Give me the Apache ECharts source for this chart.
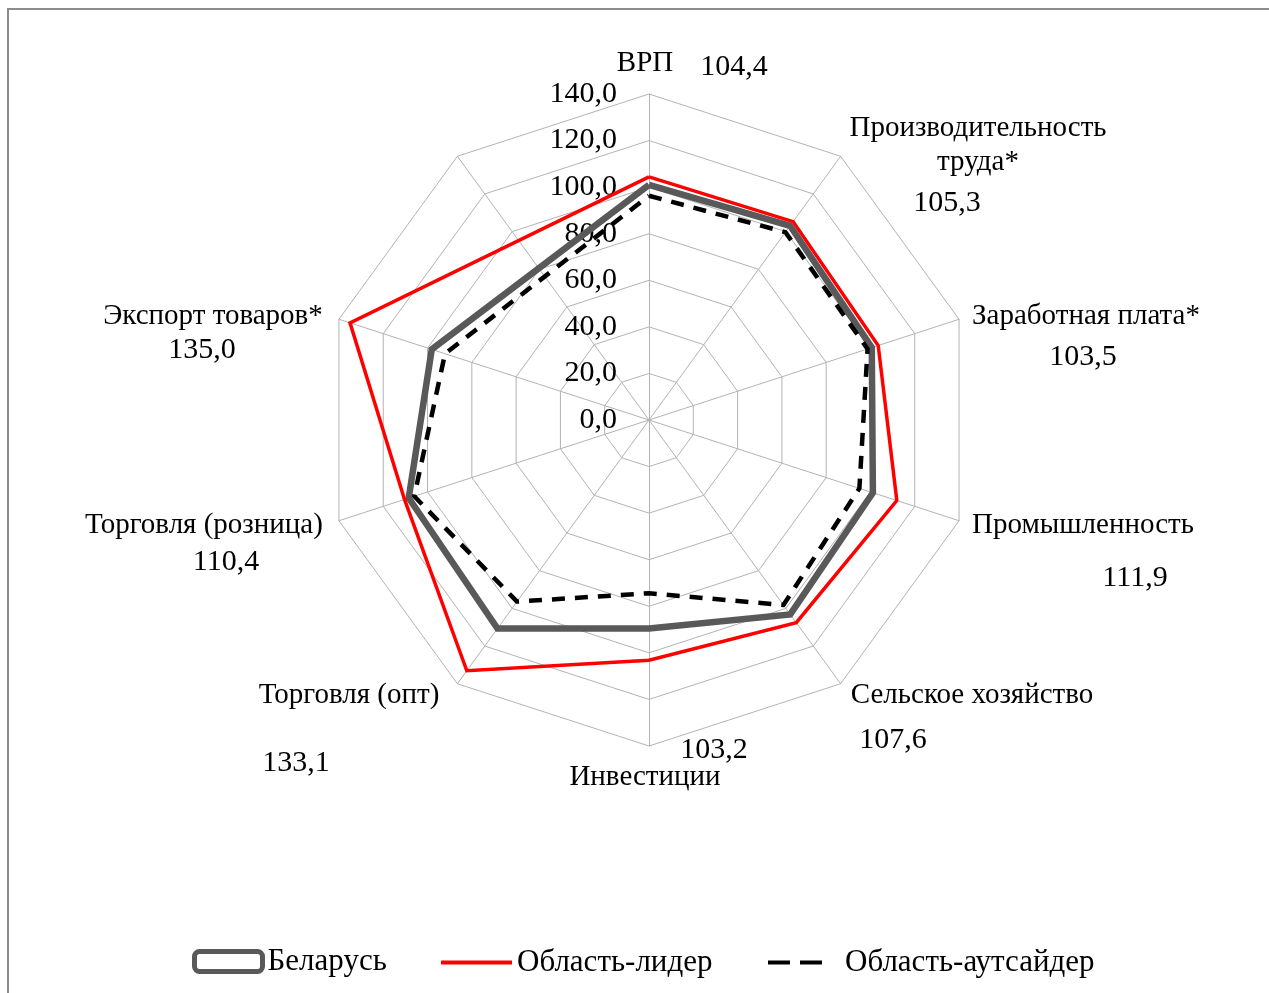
<!DOCTYPE html>
<html>
<head>
<meta charset="utf-8">
<script src="https://cdn.jsdelivr.net/npm/echarts@6/dist/echarts.min.js"></script>
<style>
html,body{margin:0;padding:0;background:#fff;}
#chart{width:1269px;height:993px;}
</style>
</head>
<body>
<div id="chart"></div>
<script>
// Categories clockwise from the top; the 10th spoke in the original has no label and no data
var categories = ['ВРП', 'Производительность\nтруда*', 'Заработная плата*', 'Промышленность', 'Сельское хозяйство', 'Инвестиции', 'Торговля (опт)', 'Торговля (розница)', 'Экспорт товаров*', ''];
var belarus  = [101.0, 103.1, 100.6, 101.1, 103.2, 89.5, 110.7, 108.5, 98.1, null];
var leader   = [104.4, 105.3, 103.5, 111.9, 107.6, 103.2, 133.1, 110.4, 135.0, null];
var outsider = [96.3, 99.7, 98.7, 95.0, 98.2, 74.4, 96.4, 106.0, 92.1, null];
var tickLabels = ['0,0', '20,0', '40,0', '60,0', '80,0', '100,0', '120,0', '140,0'];
var seriesNames = ['Беларусь', 'Область-лидер', 'Область-аутсайдер'];

var FONT = "'Liberation Serif', 'Times New Roman', serif";
var CX = 649, CY = 420, R = 326, MAX = 140;
var N = categories.length, STEP = 360 / N;

function toPolar(vals) {
  var pts = [];
  vals.forEach(function (v, i) { if (v != null) pts.push([v, i * STEP]); });
  pts.push([vals[0], 360]);
  return pts;
}
function fmt(v) { return v.toFixed(1).replace('.', ','); }

// label layout (category name position, value text position)
var labelPos = [
  {n: [645, 63],  v: [734, 67]},
  {n: [978, 145], v: [947, 203]},
  {n: [1086, 316], v: [1083, 357]},
  {n: [1083, 525], v: [1135, 578]},
  {n: [972, 695], v: [893, 740]},
  {n: [645, 777], v: [714, 750]},
  {n: [349, 695], v: [296, 763]},
  {n: [204, 525], v: [226, 562]},
  {n: [213, 316], v: [202, 350]}
];

var graphics = [{
  type: 'rect', z: -10, silent: true,
  shape: {x: 8, y: 9, width: 1300, height: 1100},
  style: {fill: 'none', stroke: '#8c8c8c', lineWidth: 2}
}];
labelPos.forEach(function (p, i) {
  graphics.push({type: 'text', x: p.n[0], y: p.n[1], silent: true,
    style: {text: categories[i], font: '29px ' + FONT, fill: '#000', align: 'center', verticalAlign: 'middle', lineHeight: 34}});
  graphics.push({type: 'text', x: p.v[0], y: p.v[1], silent: true,
    style: {text: fmt(leader[i]), font: '30px ' + FONT, fill: '#000', align: 'center', verticalAlign: 'middle'}});
});

var legendText = {fontFamily: FONT, fontSize: 31, color: '#000'};
var option = {
  animation: false,
  backgroundColor: '#fff',
  radar: {
    center: [CX, CY], radius: R, startAngle: 90, shape: 'polygon', splitNumber: 7,
    indicator: categories.map(function (c) { return {name: c, min: 0, max: MAX}; }),
    axisName: {show: false},
    axisLine: {lineStyle: {color: '#b3b3b3', width: 1}},
    splitLine: {lineStyle: {color: '#b3b3b3', width: 1}},
    splitArea: {show: false},
    axisTick: {show: false},
    axisLabel: {show: false}
  },
  polar: {center: [CX, CY], radius: R},
  angleAxis: {type: 'value', min: 0, max: 360, startAngle: 90, clockwise: true,
    axisLine: {show: false}, axisTick: {show: false}, axisLabel: {show: false}, splitLine: {show: false}},
  radiusAxis: {type: 'value', min: 0, max: MAX, interval: 20,
    axisLine: {show: false}, axisTick: {show: false}, splitLine: {show: false},
    axisLabel: {show: true, margin: 32, fontFamily: FONT, fontSize: 30, color: '#000',
      formatter: function (v) { return tickLabels[Math.round(v / 20)]; }}},
  legend: [
    {data: [{name: seriesNames[0], icon: 'roundRect'}], left: 192, top: 946, padding: 0, itemWidth: 68, itemHeight: 20,
      itemStyle: {color: '#fff', borderColor: '#595959', borderWidth: 5}, textStyle: legendText, selectedMode: false},
    {data: [{name: seriesNames[1], icon: 'rect'}], left: 441, top: 947, padding: 0, itemWidth: 71, itemHeight: 4,
      itemStyle: {color: '#ff0000'}, textStyle: legendText, selectedMode: false},
    {data: [{name: seriesNames[2], icon: 'path://M0,0L22,0L22,4L0,4ZM32,0L54,0L54,4L32,4Z'}], left: 768, top: 947, padding: 0, itemWidth: 54, itemHeight: 4,
      itemStyle: {color: '#000'}, textStyle: Object.assign({padding: [0, 0, 0, 18]}, legendText), selectedMode: false}
  ],
  series: [
    {name: seriesNames[0], type: 'line', coordinateSystem: 'polar', data: toPolar(belarus), showSymbol: false, symbol: 'none',
      lineStyle: {color: '#595959', width: 6.5, join: 'miter'}, itemStyle: {color: '#595959'}, z: 2},
    {name: seriesNames[1], type: 'line', coordinateSystem: 'polar', data: toPolar(leader), showSymbol: false, symbol: 'none',
      lineStyle: {color: '#ff0000', width: 3.5, join: 'miter'}, itemStyle: {color: '#ff0000'}, z: 3},
    {name: seriesNames[2], type: 'line', coordinateSystem: 'polar', data: toPolar(outsider), showSymbol: false, symbol: 'none',
      lineStyle: {color: '#000', width: 4.5, type: [13, 10], join: 'round'}, itemStyle: {color: '#000'}, z: 4}
  ],
  graphic: graphics
};
var chart = echarts.init(document.getElementById('chart'), null, {renderer: 'canvas'});
chart.setOption(option);
</script>
</body>
</html>
